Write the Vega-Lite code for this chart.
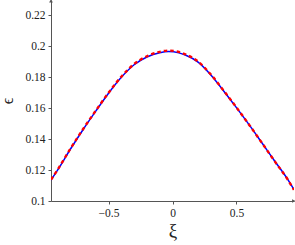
{
  "$schema": "https://vega.github.io/schema/vega-lite/v6.json",
  "width": 243,
  "height": 201,
  "autosize": {"type": "none"},
  "padding": {"left": 51, "top": 0, "right": 1, "bottom": 44},
  "background": "white",
  "config": {
    "view": {"stroke": null},
    "axis": {
      "grid": false,
      "domainColor": "#555555",
      "tickColor": "#555555",
      "labelFont": "Liberation Serif",
      "labelFontSize": 11.5,
      "labelColor": "#222222",
      "titleFont": "Liberation Serif",
      "titleFontWeight": "normal",
      "titleColor": "#222222"
    }
  },
  "datasets": {
    "blue": [
      {"xi": -0.95, "eps": 0.1136},
      {"xi": -0.9, "eps": 0.1198},
      {"xi": -0.8, "eps": 0.1333},
      {"xi": -0.7, "eps": 0.1461},
      {"xi": -0.6, "eps": 0.1581},
      {"xi": -0.5, "eps": 0.1697},
      {"xi": -0.4, "eps": 0.1800},
      {"xi": -0.3, "eps": 0.1881},
      {"xi": -0.2, "eps": 0.1931},
      {"xi": -0.1, "eps": 0.1959},
      {"xi": -0.03, "eps": 0.1967},
      {"xi": 0.05, "eps": 0.1958},
      {"xi": 0.1, "eps": 0.1944},
      {"xi": 0.2, "eps": 0.1898},
      {"xi": 0.3, "eps": 0.1815},
      {"xi": 0.4, "eps": 0.1712},
      {"xi": 0.5, "eps": 0.1604},
      {"xi": 0.6, "eps": 0.1492},
      {"xi": 0.7, "eps": 0.1375},
      {"xi": 0.8, "eps": 0.1257},
      {"xi": 0.9, "eps": 0.1141},
      {"xi": 0.95, "eps": 0.1073}
    ],
    "red": [
      {"xi": -0.95, "eps": 0.1138},
      {"xi": -0.9, "eps": 0.1200},
      {"xi": -0.8, "eps": 0.1336},
      {"xi": -0.7, "eps": 0.1464},
      {"xi": -0.6, "eps": 0.1584},
      {"xi": -0.5, "eps": 0.1700},
      {"xi": -0.4, "eps": 0.1804},
      {"xi": -0.3, "eps": 0.1886},
      {"xi": -0.2, "eps": 0.1936},
      {"xi": -0.1, "eps": 0.1965},
      {"xi": -0.03, "eps": 0.1973},
      {"xi": 0.05, "eps": 0.1964},
      {"xi": 0.1, "eps": 0.1949},
      {"xi": 0.2, "eps": 0.1902},
      {"xi": 0.3, "eps": 0.1818},
      {"xi": 0.4, "eps": 0.1714},
      {"xi": 0.5, "eps": 0.1605},
      {"xi": 0.6, "eps": 0.1492},
      {"xi": 0.7, "eps": 0.1375},
      {"xi": 0.8, "eps": 0.1256},
      {"xi": 0.9, "eps": 0.1140},
      {"xi": 0.95, "eps": 0.1072}
    ],
    "arrows": [
      {"xi": -0.95, "eps": 0.2295, "shape": "triangle-up"},
      {"xi": 0.9475, "eps": 0.1, "shape": "triangle-right"}
    ]
  },
  "layer": [
    {
      "data": {"name": "blue"},
      "mark": {"type": "line", "color": "#0000ff", "strokeWidth": 1.5, "interpolate": "monotone", "clip": true},
      "encoding": {
        "x": {
          "field": "xi", "type": "quantitative",
          "scale": {"domain": [-0.95, 0.95], "nice": false, "zero": false},
          "axis": {"values": [-0.5, 0, 0.5], "format": "~g", "labelOverlap": false, "title": "ξ", "titleFontSize": 19, "titlePadding": 3, "tickSize": 3, "labelPadding": 3, "labelFlush": false}
        },
        "y": {
          "field": "eps", "type": "quantitative",
          "scale": {"domain": [0.1, 0.23], "nice": false, "zero": false},
          "axis": {"tickCount": 7, "format": "~g", "labelOverlap": false, "title": "ϵ", "titleFontSize": 16, "titlePadding": 9, "tickSize": 3, "labelPadding": 3, "labelFlush": false}
        }
      }
    },
    {
      "data": {"name": "red"},
      "mark": {"type": "line", "color": "#ff0000", "strokeWidth": 2.4, "strokeDash": [3.5, 3], "interpolate": "monotone", "clip": true},
      "encoding": {
        "x": {"field": "xi", "type": "quantitative"},
        "y": {"field": "eps", "type": "quantitative"}
      }
    },
    {
      "data": {"name": "arrows"},
      "mark": {"type": "point", "filled": true, "color": "#555555", "size": 14, "opacity": 1},
      "encoding": {
        "x": {"field": "xi", "type": "quantitative"},
        "y": {"field": "eps", "type": "quantitative"},
        "shape": {"field": "shape", "type": "nominal", "scale": {"domain": ["triangle-up", "triangle-right"], "range": ["triangle-up", "triangle-right"]}, "legend": null}
      }
    }
  ]
}
